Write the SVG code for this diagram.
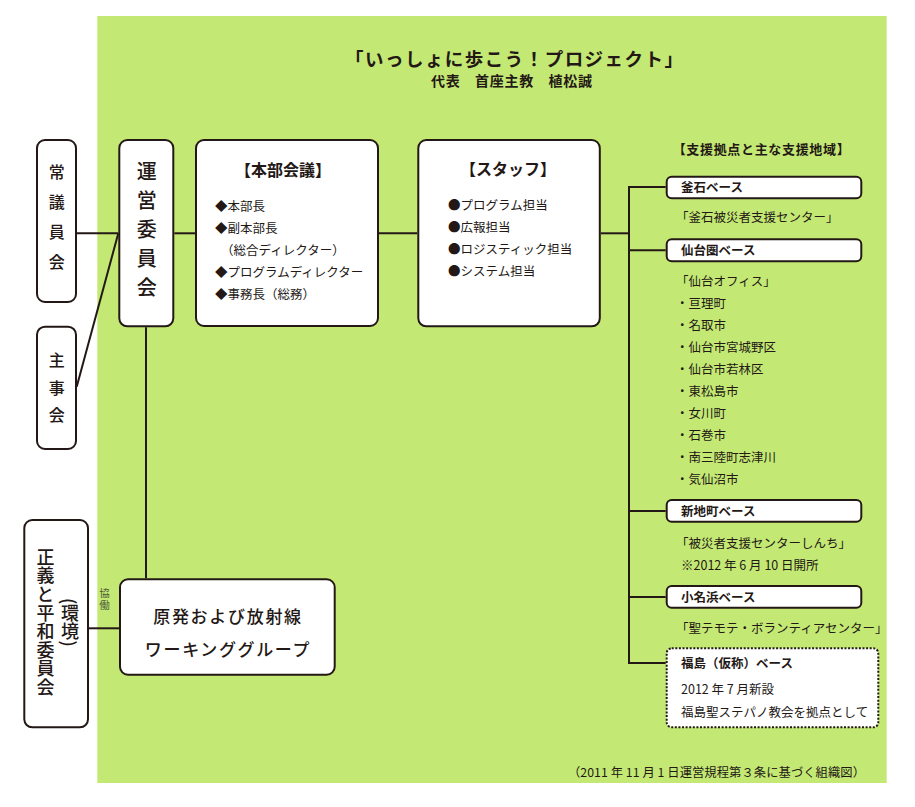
<svg xmlns="http://www.w3.org/2000/svg" width="915" height="807" viewBox="0 0 915 807">
<style>
text{font-family:"Noto Sans CJK JP","Noto Sans",sans-serif;fill:#231815}
.box{fill:#fff;stroke:#231815;stroke-width:2}
.dot{fill:#fff;stroke:#231815;stroke-width:2;stroke-dasharray:2 1.6}
.ln{fill:none;stroke:#231815;stroke-width:2}
.vt{writing-mode:vertical-rl;font-weight:500}
.it{font-size:12.5px}
.hb{font-size:12.5px;font-weight:700}
</style>
<rect x="97.3" y="16" width="789.4" height="767" fill="#c3e874"/>
<g id="title">
<text x="514" y="66" font-size="18.5" font-weight="700" text-anchor="middle" textLength="338" lengthAdjust="spacing">「いっしょに歩こう！プロジェクト」</text>
<text x="431" y="86" font-size="14" font-weight="700" textLength="161" lengthAdjust="spacing">代表　首座主教　植松誠</text>
</g>
<g id="connectors">
<line class="ln" x1="76.7" y1="233.3" x2="118.3" y2="233.3"/>
<line class="ln" x1="76.7" y1="386.7" x2="118.3" y2="233.3"/>
<line class="ln" x1="174.3" y1="233.3" x2="195" y2="233.3"/>
<line class="ln" x1="379" y1="233.3" x2="417.3" y2="233.3"/>
<line class="ln" x1="600.7" y1="233.3" x2="629" y2="233.3"/>
<polyline class="ln" points="665.7,187 629,187 629,663 665.7,663"/>
<line class="ln" x1="629" y1="250.3" x2="665.7" y2="250.3"/>
<line class="ln" x1="629" y1="511" x2="665.7" y2="511"/>
<line class="ln" x1="629" y1="597" x2="665.7" y2="597"/>
<line class="ln" x1="146" y1="327.3" x2="146" y2="578.3"/>
<line class="ln" x1="89" y1="628.3" x2="119" y2="628.3"/>
<text x="104.5" y="588" font-size="10.5" letter-spacing="1.5" style="writing-mode:vertical-rl;fill:#4d5a38">協働</text>
</g>
<g id="jogiinkai">
<rect class="box" x="37" y="140" width="39" height="162" rx="8"/>
<text x="56.7" y="163.7" class="vt" font-size="16" letter-spacing="14">常議員会</text>
</g>
<g id="shujikai">
<rect class="box" x="37" y="326.7" width="39" height="122.3" rx="8"/>
<text x="56.7" y="352" class="vt" font-size="16" letter-spacing="11.5">主事会</text>
</g>
<g id="uneiiinkai">
<rect class="box" x="119.3" y="140" width="54" height="186.3" rx="8"/>
<text x="146.7" y="161.7" class="vt" font-size="20" letter-spacing="9" font-weight="700">運営委員会</text>
</g>
<g id="honbukaigi">
<rect class="box" x="196" y="140" width="182" height="186" rx="8"/>
<text x="283" y="176" font-size="16" font-weight="700" text-anchor="middle">【本部会議】</text>
<text x="215" y="211" class="it">◆本部長</text>
<text x="215" y="233" class="it">◆副本部長</text>
<text x="221" y="255" class="it">（総合ディレクター）</text>
<text x="215" y="277" class="it">◆プログラムディレクター</text>
<text x="215" y="299" class="it">◆事務長（総務）</text>
</g>
<g id="staff">
<rect class="box" x="418.3" y="140" width="181.5" height="186.3" rx="8"/>
<text x="508" y="175" font-size="16" font-weight="700" text-anchor="middle">【スタッフ】</text>
<text x="448" y="210" class="it">●プログラム担当</text>
<text x="448" y="232" class="it">●広報担当</text>
<text x="448" y="254" class="it">●ロジスティック担当</text>
<text x="448" y="276" class="it">●システム担当</text>
</g>
<g id="bases-heading">
<text x="672.7" y="154" font-size="13" font-weight="700" textLength="177" lengthAdjust="spacing">【支援拠点と主な支援地域】</text>
</g>
<g id="kamaishi">
<rect class="box" x="666.7" y="176.7" width="194.6" height="21.6" rx="5"/>
<text x="681" y="192" class="hb">釜石ベース</text>
<text x="676" y="222" class="it">「釜石被災者支援センター」</text>
</g>
<g id="sendai">
<rect class="box" x="666.7" y="239.3" width="194.6" height="22" rx="5"/>
<text x="681" y="255" class="hb">仙台圏ベース</text>
<text x="676" y="286" class="it">「仙台オフィス」</text>
<text x="676" y="308" class="it">・亘理町</text>
<text x="676" y="330" class="it">・名取市</text>
<text x="676" y="352" class="it">・仙台市宮城野区</text>
<text x="676" y="374" class="it">・仙台市若林区</text>
<text x="676" y="396" class="it">・東松島市</text>
<text x="676" y="418" class="it">・女川町</text>
<text x="676" y="440" class="it">・石巻市</text>
<text x="676" y="462" class="it">・南三陸町志津川</text>
<text x="676" y="484" class="it">・気仙沼市</text>
</g>
<g id="shinchi">
<rect class="box" x="666.7" y="500" width="194.6" height="21.7" rx="5"/>
<text x="681" y="515.5" class="hb">新地町ベース</text>
<text x="676" y="547.5" class="it">「被災者支援センターしんち」</text>
<text x="681" y="570" class="it">※2012 年 6 月 10 日開所</text>
</g>
<g id="onahama">
<rect class="box" x="666.7" y="586" width="194.6" height="21.7" rx="5"/>
<text x="681" y="601.5" class="hb">小名浜ベース</text>
<text x="676" y="633" class="it">「聖テモテ・ボランティアセンター」</text>
</g>
<g id="fukushima">
<rect class="dot" x="666.7" y="648.3" width="211.6" height="79" rx="5"/>
<text x="681" y="668" class="hb">福島（仮称）ベース</text>
<text x="681" y="694" class="it">2012 年 7 月新設</text>
<text x="681" y="716.5" class="it">福島聖ステパノ教会を拠点として</text>
</g>
<g id="seigi">
<rect class="box" x="24.3" y="520" width="63.7" height="207.3" rx="8"/>
<text x="45.5" y="548" class="vt" font-size="18" letter-spacing="0.6">正義と平和委員会</text>
<text x="70" y="598" class="vt" font-size="18">(環境)</text>
</g>
<g id="genpatsu">
<rect class="box" x="120" y="579.3" width="214.7" height="95.4" rx="8"/>
<text x="228" y="623" font-size="17" font-weight="500" letter-spacing="1.7" text-anchor="middle">原発および放射線</text>
<text x="228" y="656" font-size="17" font-weight="500" letter-spacing="1.7" text-anchor="middle">ワーキンググループ</text>
</g>
<g id="footer">
<text x="568" y="776.5" font-size="12.3" textLength="297" lengthAdjust="spacing">（2011 年 11 月 1 日運営規程第３条に基づく組織図）</text>
</g>
</svg>
